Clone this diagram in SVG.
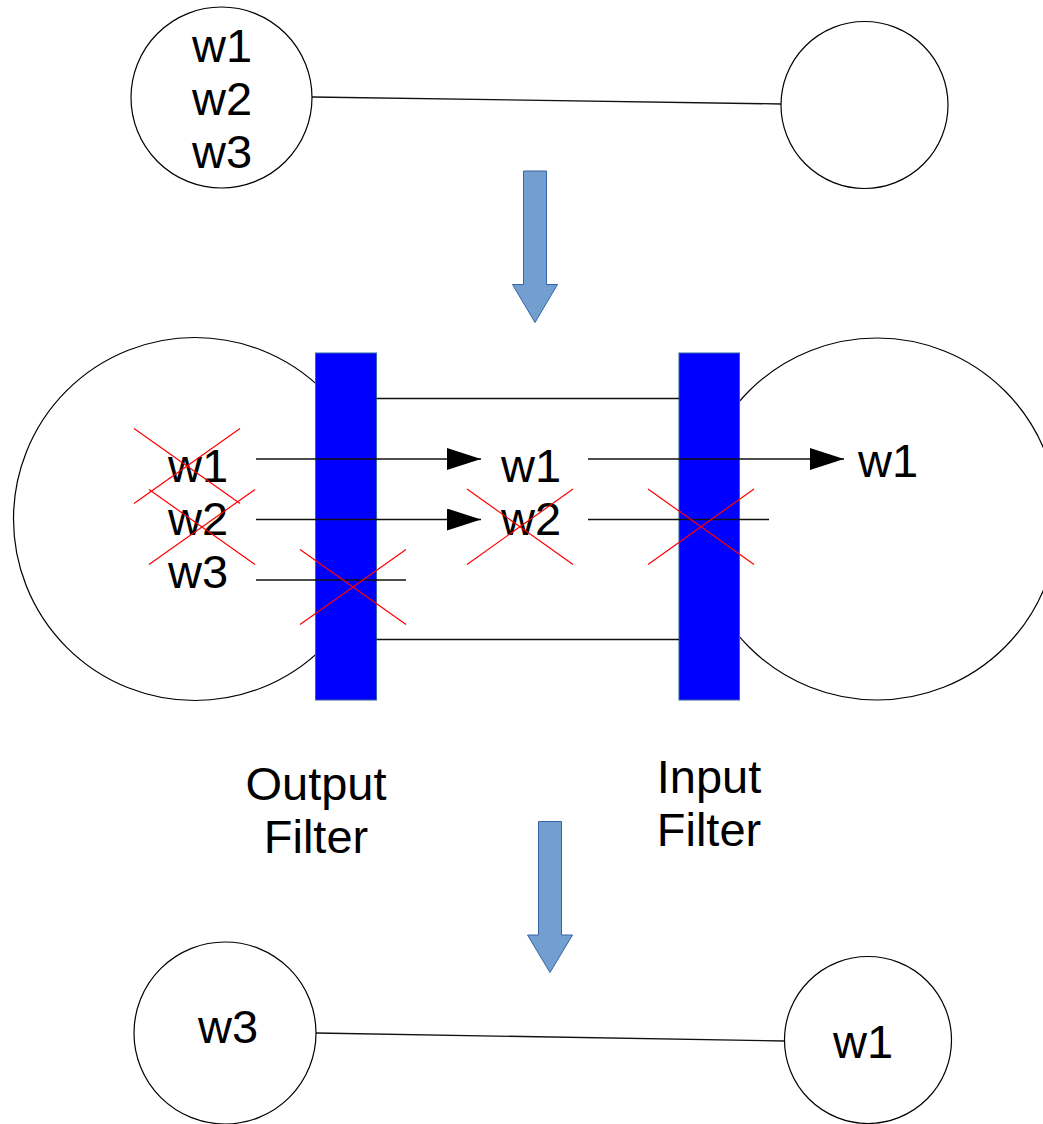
<svg xmlns="http://www.w3.org/2000/svg" width="1043" height="1124" viewBox="0 0 1043 1124">
<defs>
<style>
.node{fill:#ffffff;stroke:#000000;stroke-width:1.2}
.t{font-family:"Liberation Sans",Arial,sans-serif;font-size:47px;fill:#000000;text-anchor:middle}
.ln{stroke:#111111;stroke-width:1.3;fill:none}
.x{stroke:#ff0000;stroke-width:1.2;fill:none}
.filter{fill:#0000ff;stroke:#3465a4;stroke-width:1}
.big{fill:#729fcf;stroke:#3465a4;stroke-width:1}
</style>
<marker id="ah" markerWidth="34" markerHeight="22" refX="34" refY="11" orient="auto" markerUnits="userSpaceOnUse">
<path d="M0,0 L34,11 L0,22 Z" fill="#000000"/>
</marker>
</defs>
<rect width="1043" height="1124" fill="#ffffff"/>

<g id="connectors">
<line class="ln" x1="312" y1="97" x2="781" y2="104"/>
<line class="ln" x1="316" y1="1033" x2="785" y2="1041"/>
</g>

<g id="top-left-node">
<circle class="node" cx="221.5" cy="97.5" r="90.5"/>
<text class="t" x="222" y="62">w1</text>
<text class="t" x="222" y="115">w2</text>
<text class="t" x="222" y="168">w3</text>
</g>
<g id="top-right-node">
<circle class="node" cx="864.5" cy="105" r="83.5"/>
</g>

<g id="arrow-down-1">
<path class="big" d="M523.5,171 L546.5,171 L546.5,284.5 L557.5,284.5 L535,322.5 L512.5,284.5 L523.5,284.5 Z"/>
</g>

<g id="middle-left-node">
<circle class="node" cx="195" cy="519" r="181.5"/>
</g>
<g id="middle-right-node">
<circle class="node" cx="877" cy="519" r="181"/>
</g>

<g id="output-filter">
<rect class="filter" x="315.5" y="353" width="61" height="347"/>
</g>
<g id="input-filter">
<rect class="filter" x="679" y="353" width="60.5" height="347"/>
</g>

<g id="middle-connectors">
<line class="ln" x1="376.5" y1="398.5" x2="679" y2="398.5"/>
<line class="ln" x1="376.5" y1="639.5" x2="679" y2="639.5"/>
<line class="ln" x1="256" y1="459" x2="481" y2="459" marker-end="url(#ah)"/>
<line class="ln" x1="256" y1="519.5" x2="481" y2="519.5" marker-end="url(#ah)"/>
<line class="ln" x1="256" y1="580" x2="406" y2="580"/>
<line class="ln" x1="588" y1="459" x2="844" y2="459" marker-end="url(#ah)"/>
<line class="ln" x1="588" y1="519.5" x2="769" y2="519.5"/>
</g>

<g id="middle-texts">
<text class="t" x="198" y="482">w1</text>
<text class="t" x="198" y="535">w2</text>
<text class="t" x="198" y="588">w3</text>
<text class="t" x="531" y="482">w1</text>
<text class="t" x="531" y="535">w2</text>
<text class="t" x="888" y="477">w1</text>
</g>

<g id="crosses">
<path class="x" d="M134,428.5 L240,503.5 M240,428.5 L134,503.5"/>
<path class="x" d="M149,489.5 L255,564.5 M255,489.5 L149,564.5"/>
<path class="x" d="M300,549.5 L406,624.5 M406,549.5 L300,624.5"/>
<path class="x" d="M467,489 L573,564.5 M573,489 L467,564.5"/>
<path class="x" d="M648,489 L754,564.5 M754,489 L648,564.5"/>
</g>

<g id="labels">
<text class="t" x="316" y="800">Output</text>
<text class="t" x="316" y="853">Filter</text>
<text class="t" x="709" y="793">Input</text>
<text class="t" x="709" y="846">Filter</text>
</g>

<g id="arrow-down-2">
<path class="big" d="M538.5,821.5 L561.5,821.5 L561.5,935 L572.5,935 L550,972.5 L527.5,935 L538.5,935 Z"/>
</g>

<g id="bottom-left-node">
<circle class="node" cx="225" cy="1033" r="91"/>
<text class="t" x="228" y="1043">w3</text>
</g>
<g id="bottom-right-node">
<circle class="node" cx="868" cy="1040" r="83.5"/>
<text class="t" x="863" y="1058">w1</text>
</g>
</svg>
